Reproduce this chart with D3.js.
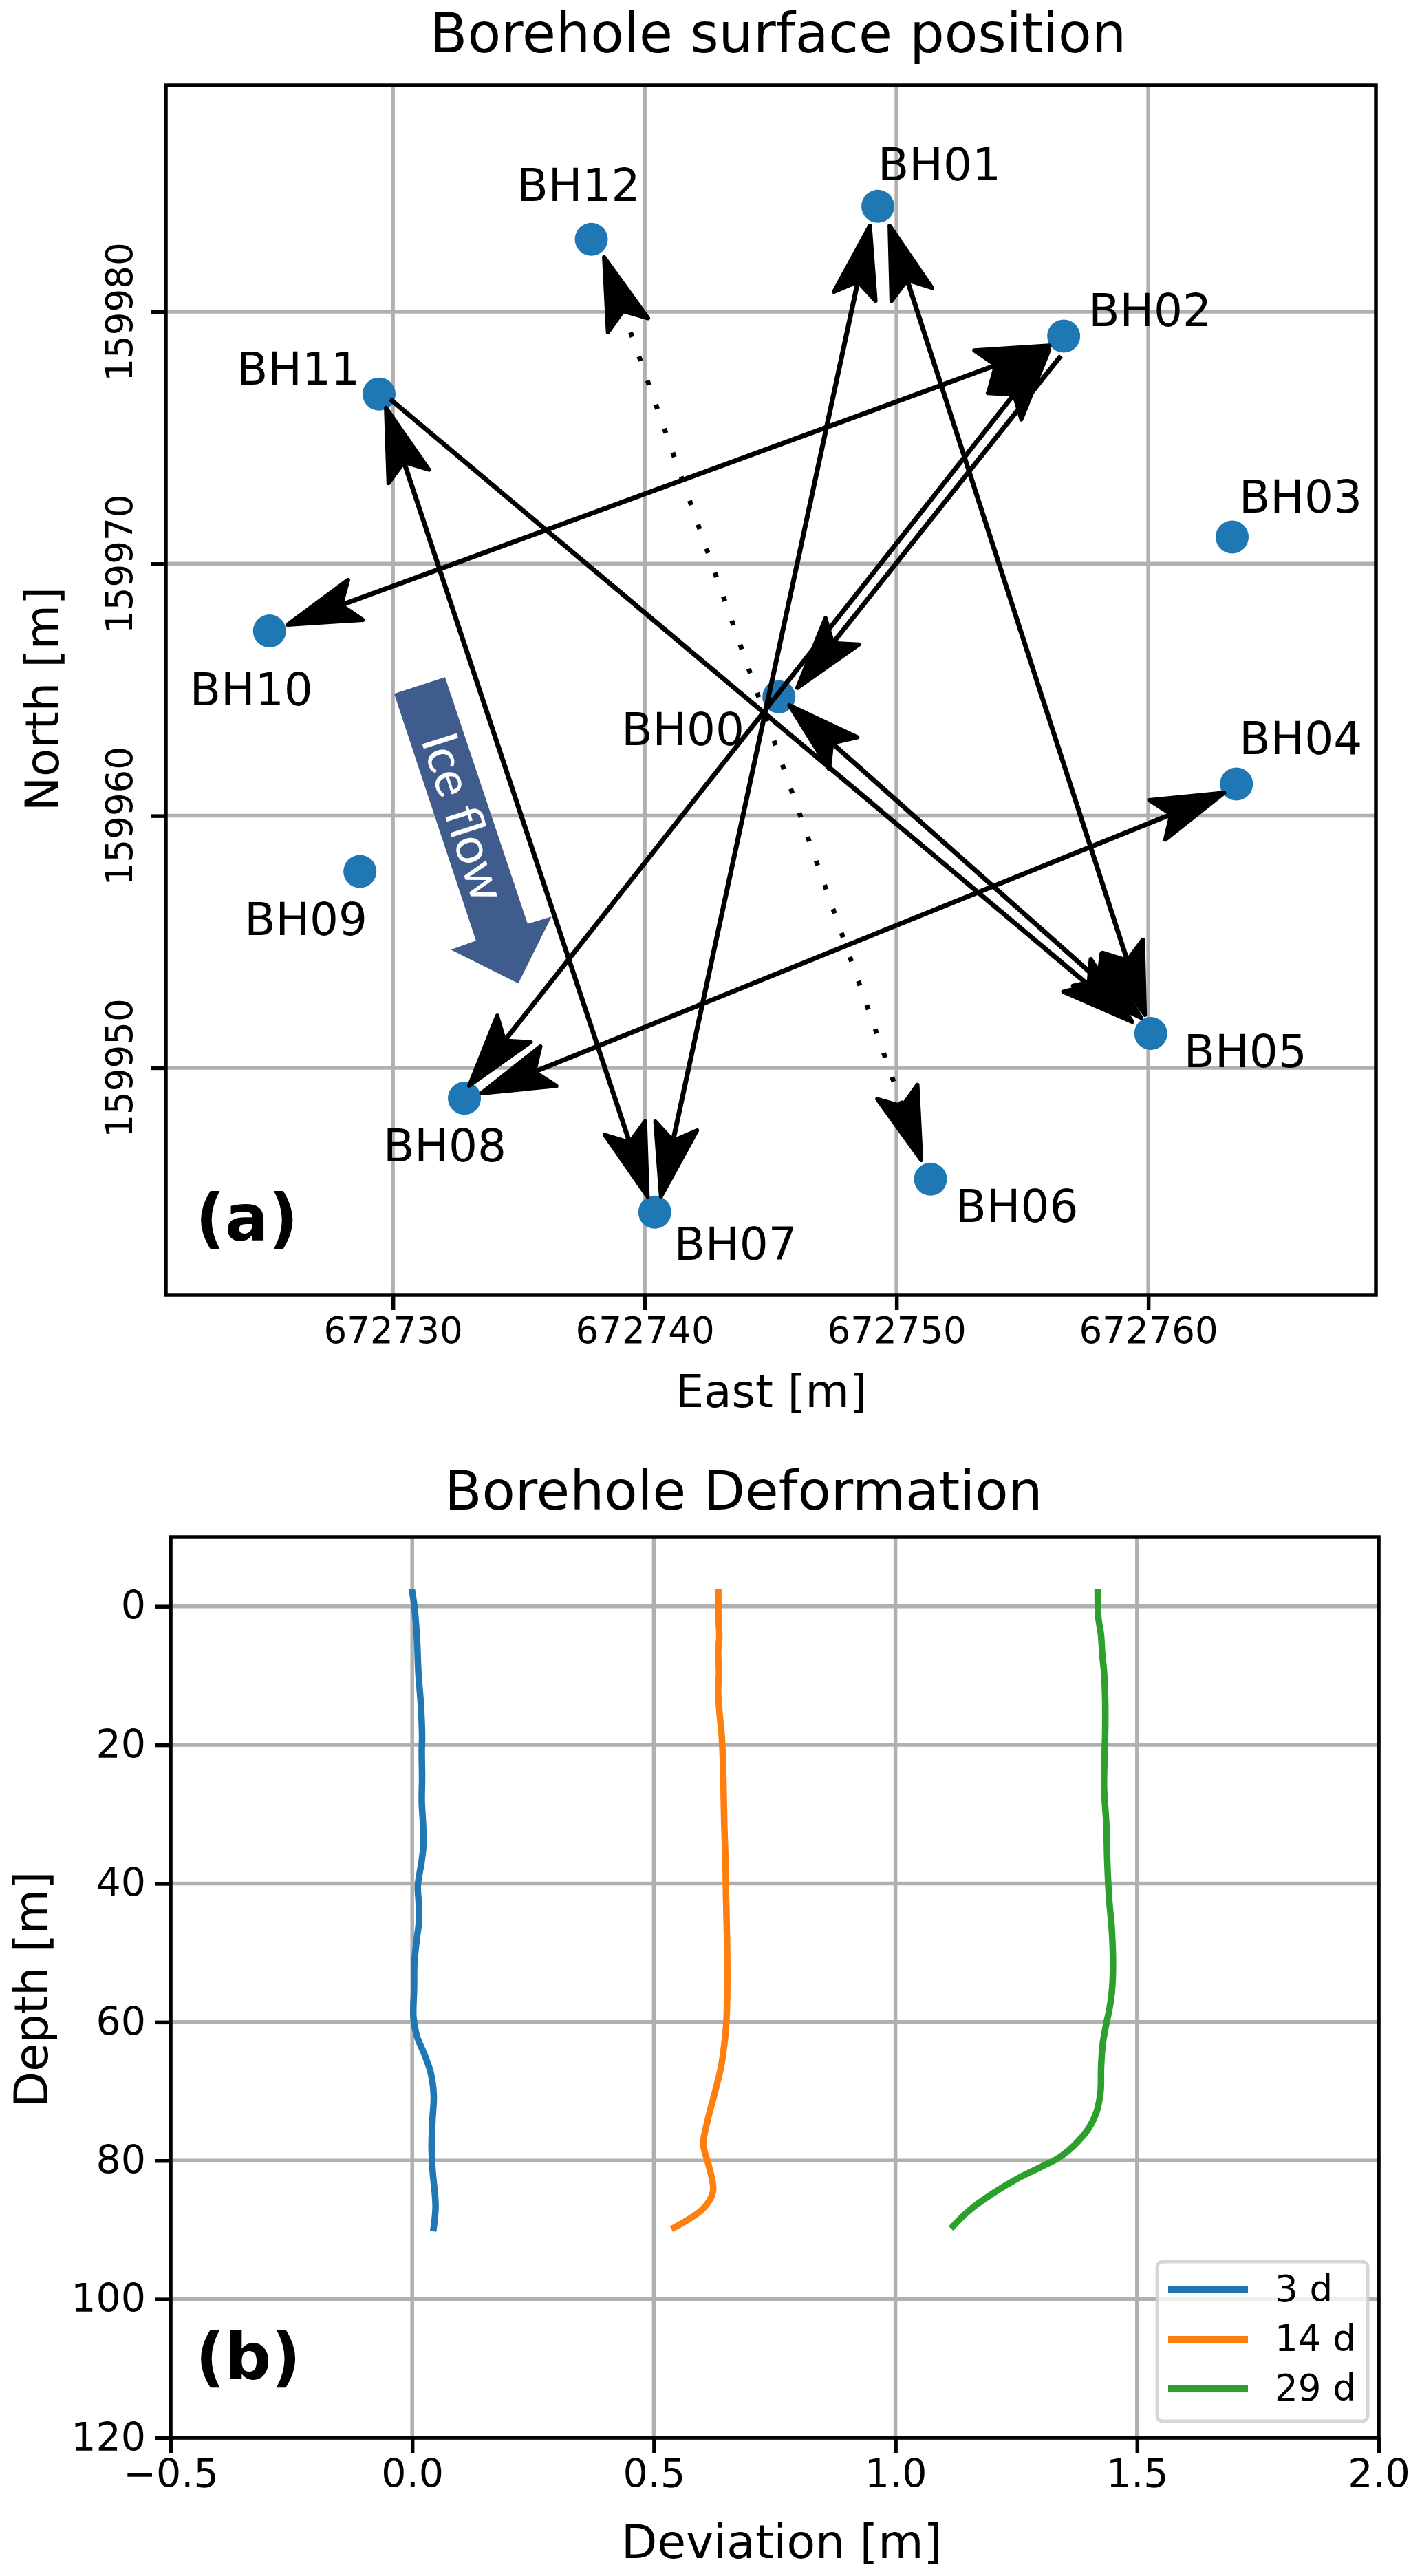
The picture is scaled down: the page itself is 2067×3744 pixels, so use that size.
<!DOCTYPE html>
<html>
<head>
<meta charset="utf-8">
<script src="https://cdn.jsdelivr.net/npm/d3@7"></script>
<style>
html,body{margin:0;padding:0;background:#fff}
svg{display:block}
text{font-family:"DejaVu Sans",sans-serif;fill:#000}
</style>
</head>
<body>
<script>
// ---------- Panel (a) data ----------
const boreholes = ["BH00","BH01","BH02","BH03","BH04","BH05","BH06","BH07","BH08","BH09","BH10","BH11","BH12"];
const east  = [672745.33,672749.26,672756.64,672763.33,672763.5,672760.1,672751.35,672740.4,672732.84,672728.69,672725.1,672729.45,672737.88];
const north = [159964.72,159984.18,159979.03,159971.06,159961.26,159951.36,159945.58,159944.27,159948.79,159957.79,159967.33,159976.73,159982.87];

// arrows (start and end, data coordinates)
const arrowEast0  = [672748.96,672749.70,672729.70,672725.74,672733.44,672732.98,672756.53,672729.89,672745.68,672738.36];
const arrowNorth0 = [159983.49,159983.49,159976.26,159967.55,159948.96,159949.23,159978.25,159976.53,159964.44,159982.24];
const arrowEast1  = [672740.63,672759.89,672740.14,672756.15,672763.09,672756.12,672746.01,672759.43,672759.78,672751.01];
const arrowNorth1 = [159944.81,159952.02,159944.81,159978.68,159960.94,159978.56,159965.01,159951.77,159951.93,159946.26];
const arrowHeadAtStart = [true,true,true,true,true,true,false,false,true,true];
const arrowDotted = [false,false,false,false,false,false,false,false,false,true];

const iceFlowEast  = [672730.05,672732.07,672735.35,672736.30,672734.98,672732.30,672733.30];
const iceFlowNorth = [159964.84,159965.50,159955.71,159956.00,159953.35,159954.69,159955.04];

const eastTicks  = [672730,672740,672750,672760];
const northTicks = [159950,159960,159970,159980];

// ---------- Panel (b) data ----------
const depth3  = [-2.5,0,4.85,9.5,14.15,18.8,20.8,24.8,28.1,31.4,34.1,36.7,40.4,42.7,45.4,48,51.4,55.3,59.3,62,64.7,67.3,70.6,74,77.9,81.3,86.6,90.2];
const dev3    = [-0.001,0.0045,0.010,0.0127,0.0178,0.0204,0.0197,0.0204,0.0197,0.0223,0.0235,0.0197,0.0115,0.0134,0.014,0.0095,0.0045,0.0038,0.0025,0.0095,0.0254,0.0382,0.0445,0.042,0.04,0.042,0.0483,0.0433];
const depth14 = [-2.5,1.5,4.2,6.8,9.5,12.2,15.5,18.8,22.8,26.8,31.4,36.7,42.1,48,54.7,60,63.3,66.6,70.6,74,77.6,80.3,82.6,84.3,85.9,87.2,88.6,89.9];
const dev14   = [0.6336,0.6336,0.6355,0.633,0.6349,0.633,0.6361,0.6406,0.6431,0.6444,0.6457,0.6482,0.6495,0.6514,0.652,0.6501,0.6457,0.6387,0.6247,0.612,0.6024,0.612,0.6202,0.6228,0.6139,0.598,0.5693,0.5363];
const depth29 = [-2.5,1.5,4.2,6.8,9.5,13.5,18.1,22.1,26.1,31.4,36.7,42.1,46.7,51.4,55.3,58,60.7,63.3,66.6,70,73,75.4,77.4,78.5,79.6,81,82.6,84.8,87.2,89.8];
const dev29   = [1.4184,1.4198,1.4255,1.4279,1.4317,1.4341,1.4341,1.4326,1.4317,1.4364,1.4383,1.4421,1.4478,1.4502,1.4483,1.4431,1.435,1.4288,1.4255,1.4245,1.416,1.3994,1.3757,1.359,1.3378,1.299,1.2524,1.2002,1.1527,1.1148];
const seriesNames = ["3 d","14 d","29 d"];
const deviationTicks = [-0.5,0,0.5,1,1.5,2];
const depthTicks = [0,20,40,60,80,100,120];

// ---------- Layout ----------
const W = 2067, H = 3744;
const A = {l:241, r:2000, t:124, b:1882};
const B = {l:248, r:2004, t:2234, b:3543};
const SPINE = 5.5, GRID = "#b0b0b0", TICK = 22;
const labelOffsets = [ // dx (text start), dy (baseline) from marker centre, in pixels
 [-229,70],[0,-38],[36,-14],[10,-35],[4,-43],[48,49],[36,62],[28,69],[-118,92],[-168,92],[-116,108],[-207,-14],[-108,-56]
];

const svg = d3.select("body").append("svg").attr("width",W).attr("height",H).attr("viewBox",`0 0 ${W} ${H}`);
svg.append("rect").attr("width",W).attr("height",H).attr("fill","#fff");

const xA = d3.scaleLinear().domain([672720.98,672769.04]).range([A.l,A.r]);
const yA = d3.scaleLinear().domain([159940.99,159988.98]).range([A.b,A.t]);
const xB = d3.scaleLinear().domain([-0.5,2]).range([B.l,B.r]);
const yB = d3.scaleLinear().domain([120,-10]).range([B.b,B.t]);

function styleAxis(g){
  g.selectAll(".domain").remove();
  g.selectAll(".tick line").attr("stroke","#000").attr("stroke-width",SPINE);
}
function grid(p,x,y,xt,yt){
  const g = svg.append("g").attr("stroke",GRID).attr("stroke-width",SPINE);
  g.selectAll(null).data(xt).join("line").attr("x1",d=>x(d)).attr("x2",d=>x(d)).attr("y1",p.t).attr("y2",p.b);
  g.selectAll(null).data(yt).join("line").attr("x1",p.l).attr("x2",p.r).attr("y1",d=>y(d)).attr("y2",d=>y(d));
}
function frame(p){
  svg.append("rect").attr("x",p.l).attr("y",p.t).attr("width",p.r-p.l).attr("height",p.b-p.t)
     .attr("fill","none").attr("stroke","#000").attr("stroke-width",SPINE).attr("stroke-linejoin","miter");
}

// ---------- Panel (a) ----------
grid(A,xA,yA,eastTicks,northTicks);

svg.append("polygon")
  .attr("points",iceFlowEast.map((e,i)=>[xA(e),yA(iceFlowNorth[i])].join(",")).join(" "))
  .attr("fill","#3f5c8c");
svg.append("text").text("Ice flow")
  .attr("transform",`translate(${xA(672732.82)},${yA(159959.95)}) rotate(72.3)`)
  .attr("text-anchor","middle").attr("dy","0.35em")
  .style("font-family","Lato").style("font-size","73px").style("fill","#fff");

svg.append("g").selectAll("circle").data(boreholes).join("circle")
  .attr("cx",(d,i)=>xA(east[i])).attr("cy",(d,i)=>yA(north[i])).attr("r",24).attr("fill","#1f77b4");

const HEAD_L = 108, HEAD_W = 31, HEAD_N = 86, LW = 7;
function headPoints(tx,ty,ux,uy){
  // u = unit vector pointing from the tip back along the shaft
  const px=-uy, py=ux;
  const t=[tx+ux*3,ty+uy*3], n=[tx+ux*HEAD_N,ty+uy*HEAD_N];
  const b1=[tx+ux*HEAD_L+px*HEAD_W,ty+uy*HEAD_L+py*HEAD_W];
  const b2=[tx+ux*HEAD_L-px*HEAD_W,ty+uy*HEAD_L-py*HEAD_W];
  return [t,b1,n,b2].map(p=>p.join(",")).join(" ");
}
const arrows = svg.append("g");
arrowEast0.forEach((e,i)=>{
  const x0=xA(e), y0=yA(arrowNorth0[i]), x1=xA(arrowEast1[i]), y1=yA(arrowNorth1[i]);
  const len=Math.hypot(x1-x0,y1-y0), ux=(x1-x0)/len, uy=(y1-y0)/len;
  const s = arrowHeadAtStart[i] ? HEAD_N-4 : 0, t = HEAD_N-4;
  const ln = arrows.append("line")
    .attr("x1",x0+ux*s).attr("y1",y0+uy*s).attr("x2",x1-ux*t).attr("y2",y1-uy*t)
    .attr("stroke","#000").attr("stroke-width",LW);
  if(arrowDotted[i]) ln.attr("stroke-dasharray","7 30");
  [[x1,y1,-ux,-uy,true],[x0,y0,ux,uy,arrowHeadAtStart[i]]].forEach(h=>{
    if(!h[4]) return;
    arrows.append("polygon").attr("points",headPoints(h[0],h[1],h[2],h[3]))
      .attr("fill","#000").attr("stroke","#000").attr("stroke-width",6).attr("stroke-linejoin","round");
  });
});

svg.append("g").selectAll("text").data(boreholes).join("text")
  .text(d=>d)
  .attr("x",(d,i)=>xA(east[i])+labelOffsets[i][0])
  .attr("y",(d,i)=>yA(north[i])+labelOffsets[i][1])
  .style("font-size","66px");

svg.append("g").attr("transform",`translate(0,${A.b})`)
  .call(d3.axisBottom(xA).tickValues(eastTicks).tickFormat(d3.format("d")).tickSize(TICK).tickPadding(10))
  .call(styleAxis)
  .selectAll("text").style("font-size","53px").style("font-family","DejaVu Sans").attr("fill","#000");
svg.append("g").attr("transform",`translate(${A.l},0)`)
  .call(d3.axisLeft(yA).tickValues(northTicks).tickFormat(d3.format("d")).tickSize(TICK).tickPadding(0))
  .call(styleAxis)
  .selectAll("text").style("font-size","53px").style("font-family","DejaVu Sans").attr("fill","#000")
  .attr("transform","rotate(-90,-49,0)")
  .attr("x",-49).attr("y",0).attr("dy",0).attr("text-anchor","middle");
frame(A);

svg.append("text").text("Borehole surface position").attr("x",1131).attr("y",76).attr("text-anchor","middle").style("font-size","79.5px");
svg.append("text").text("East [m]").attr("x",1121).attr("y",2045).attr("text-anchor","middle").style("font-size","66px");
svg.append("text").text("North [m]").attr("transform","translate(85,1016) rotate(-90)").attr("text-anchor","middle").style("font-size","67px");
svg.append("text").text("(a)").attr("x",284).attr("y",1803).style("font-size","94px").style("font-weight","bold");

// ---------- Panel (b) ----------
grid(B,xB,yB,deviationTicks,depthTicks);
const seriesColors = ["#1f77b4","#ff7f0e","#2ca02c"];
[[dev3,depth3],[dev14,depth14],[dev29,depth29]].forEach((s,k)=>{
  const line = d3.line().x(i=>xB(s[0][i])).y(i=>yB(s[1][i])).curve(d3.curveCatmullRom.alpha(0.5));
  svg.append("path").attr("d",line(d3.range(s[0].length)))
    .attr("fill","none").attr("stroke",seriesColors[k]).attr("stroke-width",9.5);
});
svg.append("g").attr("transform",`translate(0,${B.b})`)
  .call(d3.axisBottom(xB).tickValues(deviationTicks).tickFormat(d3.format(".1f")).tickSize(TICK).tickPadding(10))
  .call(styleAxis)
  .selectAll("text").style("font-size","57px").style("font-family","DejaVu Sans").attr("fill","#000");
svg.append("g").attr("transform",`translate(${B.l},0)`)
  .call(d3.axisLeft(yB).tickValues(depthTicks).tickFormat(d3.format("d")).tickSize(TICK).tickPadding(14))
  .call(styleAxis)
  .selectAll("text").style("font-size","57px").style("font-family","DejaVu Sans").attr("fill","#000");

// legend
const leg = svg.append("g");
leg.append("rect").attr("x",1682).attr("y",3287).attr("width",306).attr("height",232).attr("rx",8)
  .attr("fill","#fff").attr("fill-opacity",0.8).attr("stroke","#ccc").attr("stroke-opacity",0.8).attr("stroke-width",5);
seriesNames.forEach((n,i)=>{
  const y = 3328 + i*72;
  leg.append("line").attr("x1",1698).attr("x2",1814).attr("y1",y).attr("y2",y).attr("stroke",seriesColors[i]).attr("stroke-width",10);
  leg.append("text").text(n).attr("x",1853).attr("y",y+17).style("font-size","53px");
});
frame(B);

svg.append("text").text("Borehole Deformation").attr("x",1081).attr("y",2194).attr("text-anchor","middle").style("font-size","79px");
svg.append("text").text("Deviation [m]").attr("x",1136).attr("y",3718).attr("text-anchor","middle").style("font-size","68px");
svg.append("text").text("Depth [m]").attr("transform","translate(69,2891) rotate(-90)").attr("text-anchor","middle").style("font-size","67px");
svg.append("text").text("(b)").attr("x",284).attr("y",3458).style("font-size","94px").style("font-weight","bold");
</script>
</body>
</html>
